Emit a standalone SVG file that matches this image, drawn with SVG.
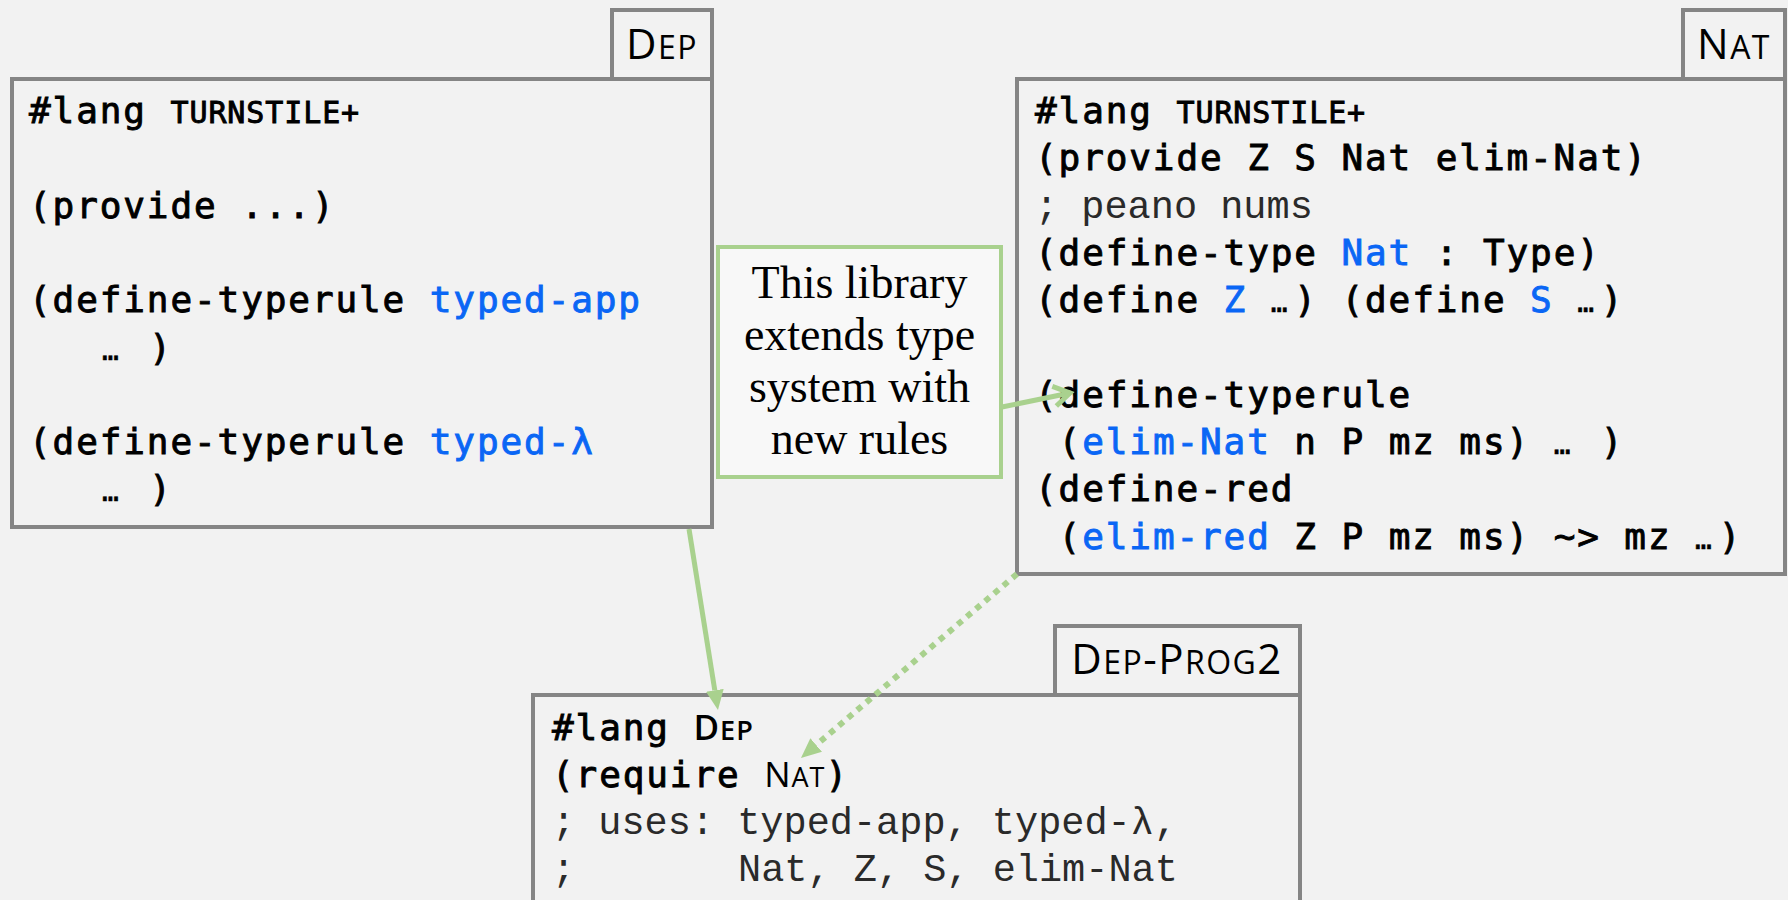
<svg xmlns="http://www.w3.org/2000/svg" width="1788" height="900" viewBox="0 0 1788 900">
  <defs>
    <style>
      .bg{fill:#f2f2f2}
      .box{fill:#f2f2f2;stroke:#858585;stroke-width:4}
      .code{font-family:"DejaVu Sans Mono",monospace;font-size:36px;font-weight:normal;letter-spacing:1.9px;fill:#000;stroke:#000;stroke-width:0.9px}
      .sc{font-size:30px;letter-spacing:0.9px}
      .el{font-size:28px;letter-spacing:6.7px;stroke-width:0.4px}
      .kw{fill:#0a66f5;stroke:#0a66f5}
      .cmt{font-family:"Liberation Mono",monospace;font-size:38.6px;font-weight:normal;letter-spacing:0;fill:#2a2a2a;stroke:none}
      .tab{font-family:"Open Sans",sans-serif;font-size:42px;letter-spacing:1.5px;fill:#000;text-anchor:middle}
      .tab .s{font-size:32px}
      .name{font-family:"Open Sans",sans-serif;font-size:35px;letter-spacing:1px;stroke:none}
      .name .s{font-size:27px}
      .note{fill:#f8f8f8;stroke:#a9d18e;stroke-width:4}
      .notetxt{font-family:"Liberation Serif",serif;font-size:46px;text-anchor:middle;fill:#000}
      .edge{fill:none;stroke:#a9d18e;stroke-width:5}
      .dots{stroke-width:6;stroke-dasharray:6 6}
    </style>
    <!-- filled triangular head -->
    <marker id="tri" markerUnits="userSpaceOnUse" viewBox="0 0 20 18" markerWidth="20" markerHeight="18" refX="0" refY="9" orient="auto">
      <path d="M0,0 L20,9 L0,18 z" fill="#a9d18e"/>
    </marker>
    <!-- open chevron head -->
    <marker id="chev" markerUnits="userSpaceOnUse" viewBox="-22 -13 26 26" markerWidth="26" markerHeight="26" refX="0" refY="0" orient="auto" overflow="visible">
      <path d="M-16,-10 L0,0 L-16,10" fill="none" stroke="#a9d18e" stroke-width="5"/>
    </marker>
  </defs>

  <rect class="bg" x="0" y="0" width="1788" height="900"/>

  <!-- Dep module -->
  <g id="dep">
    <rect class="box" x="612" y="10" width="100" height="69"/>
    <text class="tab" x="662" y="59">D<tspan class="s">EP</tspan></text>
    <rect class="box" x="12" y="79" width="700" height="448"/>
    <text class="code" x="29" y="123">#lang <tspan class="sc">TURNSTILE+</tspan></text>
    <text class="code" x="29" y="217.6">(provide ...)</text>
    <text class="code" x="29" y="312.2">(define-typerule <tspan class="kw">typed-app</tspan></text>
    <text class="code" x="102" y="359.5"><tspan class="el">…</tspan> )</text>
    <text class="code" x="29" y="454.1">(define-typerule <tspan class="kw">typed-λ</tspan></text>
    <text class="code" x="102" y="501.4"><tspan class="el">…</tspan> )</text>
  </g>

  <!-- Nat library -->
  <g id="nat">
    <rect class="box" x="1683" y="10" width="102" height="69"/>
    <text class="tab" x="1734" y="59">N<tspan class="s">AT</tspan></text>
    <rect class="box" x="1017" y="79" width="768" height="495"/>
    <text class="code" x="1035" y="123">#lang <tspan class="sc">TURNSTILE+</tspan></text>
    <text class="code" x="1035" y="170.3">(provide Z S Nat elim-Nat)</text>
    <text class="code cmt" x="1035" y="217.6">; peano nums</text>
    <text class="code" x="1035" y="264.9">(define-type <tspan class="kw">Nat</tspan> : Type)</text>
    <text class="code" x="1035" y="312.2">(define <tspan class="kw">Z</tspan> <tspan class="el">…</tspan>) (define <tspan class="kw">S</tspan> <tspan class="el">…</tspan>)</text>
    <text class="code" x="1035" y="406.8">(define-typerule</text>
    <text class="code" x="1058.6" y="454.1">(<tspan class="kw">elim-Nat</tspan> n P mz ms) <tspan class="el">…</tspan> )</text>
    <text class="code" x="1035" y="501.4">(define-red</text>
    <text class="code" x="1058.6" y="548.7">(<tspan class="kw">elim-red</tspan> Z P mz ms) ~&gt; mz <tspan class="el">…</tspan>)</text>
  </g>

  <!-- Dep-Prog2 program -->
  <g id="dep-prog2">
    <rect class="box" x="1055" y="626" width="245" height="69"/>
    <text class="tab" x="1177" y="674">D<tspan class="s">EP</tspan>-P<tspan class="s">ROG</tspan>2</text>
    <rect class="box" x="533" y="695" width="767" height="260"/>
    <text class="code" x="552" y="740">#lang <tspan class="name" font-weight="600">D<tspan class="s">EP</tspan></tspan></text>
    <text class="code" x="552" y="787">(require <tspan class="name" font-weight="normal">N<tspan class="s">AT</tspan></tspan>)</text>
    <text class="code cmt" x="552" y="834">; uses: typed-app, typed-λ,</text>
    <text class="code cmt" x="552" y="881">;</text>
    <text class="code cmt" x="738" y="881">Nat, Z, S, elim-Nat</text>
  </g>

  <!-- explanatory note -->
  <g id="note">
    <rect class="note" x="718" y="247" width="283" height="230"/>
    <text class="notetxt" x="859.5" y="298">This library</text>
    <text class="notetxt" x="859.5" y="350">extends type</text>
    <text class="notetxt" x="859.5" y="402">system with</text>
    <text class="notetxt" x="859.5" y="454">new rules</text>
  </g>

  <!-- connectors -->
  <g id="connectors">
    <path class="edge" d="M689,529 L714.8,690.3" marker-end="url(#tri)"/>
    <path class="edge dots" d="M1017,574 L816.2,745" marker-end="url(#tri)"/>
    <path class="edge" d="M1002,407 L1070,393" marker-end="url(#chev)"/>
  </g>
</svg>
